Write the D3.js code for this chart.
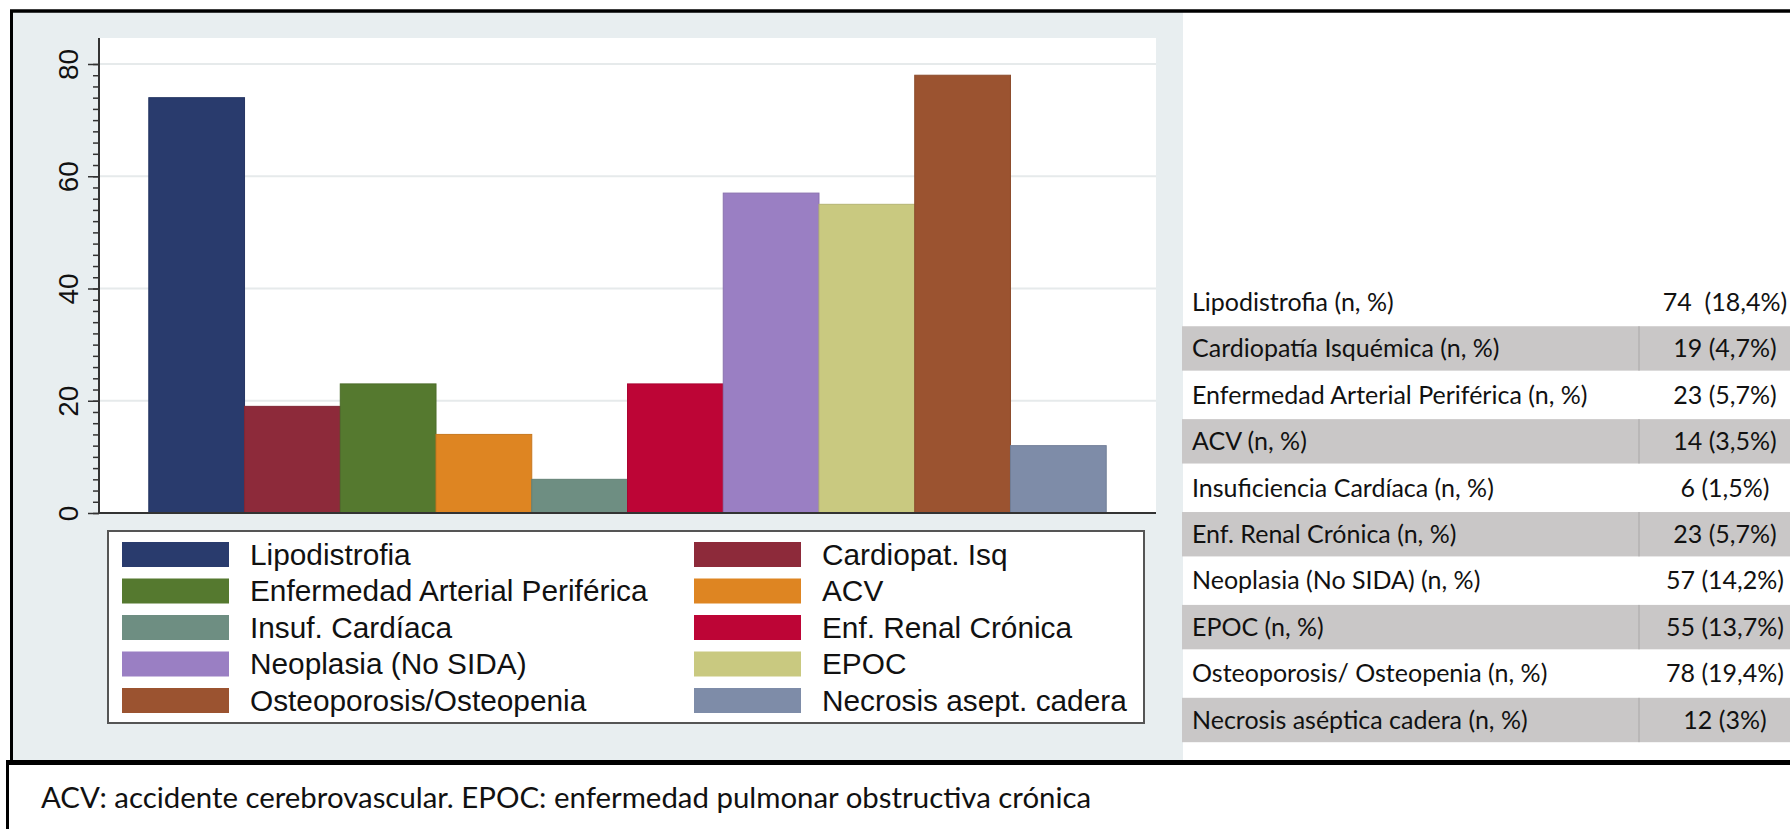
<!DOCTYPE html>
<html>
<head>
<meta charset="utf-8">
<script src="https://cdn.jsdelivr.net/npm/d3@7"></script>
<style>
  html, body { margin: 0; padding: 0; background: #fff; }
  svg { display: block; }
  .pre { white-space: pre; }
</style>
</head>
<body>
<div id="chart"></div>
<script>
// DATA
const categories = [
  "Lipodistrofia", "Cardiopat. Isq", "Enfermedad Arterial Periférica", "ACV",
  "Insuf. Cardíaca", "Enf. Renal Crónica", "Neoplasia (No SIDA)", "EPOC",
  "Osteoporosis/Osteopenia", "Necrosis asept. cadera"
];
const counts = [74, 19, 23, 14, 6, 23, 57, 55, 78, 12];
const barColors = [
  "#293b6d", "#8d2a3a", "#55792f", "#de8522", "#6e8e82",
  "#bd0536", "#9a7fc3", "#c9c980", "#9b5330", "#7e8ca8"
];
const yTicks = [0, 20, 40, 60, 80];

const tableLabels = [
  "Lipodistrofia (n, %)", "Cardiopatía Isquémica (n, %)",
  "Enfermedad Arterial Periférica (n, %)", "ACV (n, %)",
  "Insuficiencia Cardíaca (n, %)", "Enf. Renal Crónica (n, %)",
  "Neoplasia (No SIDA) (n, %)", "EPOC (n, %)",
  "Osteoporosis/ Osteopenia (n, %)", "Necrosis aséptica cadera (n, %)"
];
const tablePct = ["18,4", "4,7", "5,7", "3,5", "1,5", "5,7", "14,2", "13,7", "19,4", "3"];

const footnote = "ACV: accidente cerebrovascular. EPOC: enfermedad pulmonar obstructiva crónica";

// LAYOUT
const W = 1790, H = 829;
const plot = { left: 99, right: 1156, top: 38, bottom: 513 };

const svg = d3.select("#chart").append("svg")
  .attr("width", W).attr("height", H);

// graph region (stata light background)
svg.append("rect")
  .attr("x", 12).attr("y", 12).attr("width", 1171).attr("height", 750)
  .attr("fill", "#e8eef0");

// plot region
svg.append("rect")
  .attr("x", plot.left).attr("y", plot.top)
  .attr("width", plot.right - plot.left).attr("height", plot.bottom - plot.top)
  .attr("fill", "#fff");

const x = d3.scaleBand()
  .domain(categories)
  .range([plot.left, plot.right])
  .paddingInner(0)
  .paddingOuter(0.52);

const y = d3.scaleLinear()
  .domain([0, 80])
  .range([plot.bottom, 64]);

// gridlines
svg.append("g")
  .selectAll("line")
  .data(yTicks.filter(d => d > 0))
  .enter().append("line")
  .attr("x1", plot.left).attr("x2", plot.right)
  .attr("y1", d => y(d)).attr("y2", d => y(d))
  .attr("stroke", "#e6eaeb").attr("stroke-width", 2);

// bars
svg.append("g")
  .selectAll("rect")
  .data(counts)
  .enter().append("rect")
  .attr("x", (d, i) => x(categories[i]))
  .attr("width", x.bandwidth())
  .attr("y", d => y(d))
  .attr("height", d => y(0) - y(d))
  .attr("fill", (d, i) => barColors[i])
  .attr("stroke", (d, i) => d3.color(barColors[i]).darker(0.3))
  .attr("stroke-width", 1);

// x baseline
svg.append("line")
  .attr("x1", plot.left).attr("x2", plot.right)
  .attr("y1", y(0)).attr("y2", y(0))
  .attr("stroke", "#333").attr("stroke-width", 2);

// minor ticks
const minor = svg.append("g")
  .attr("transform", "translate(" + plot.left + ",0)")
  .call(d3.axisLeft(y).tickValues(d3.range(0, 81, 2)).tickSize(6).tickFormat(""));
minor.select(".domain").remove();
minor.selectAll("line").attr("stroke", "#333").attr("stroke-width", 1.5);

// major axis
const yAxis = svg.append("g")
  .attr("transform", "translate(" + plot.left + ",0)")
  .call(d3.axisLeft(y).tickValues(yTicks).tickSize(11).tickSizeOuter(0));
yAxis.select(".domain")
  .attr("d", "M0," + plot.top + "V" + plot.bottom)
  .attr("stroke", "#333").attr("stroke-width", 2);
yAxis.selectAll(".tick line").attr("stroke", "#333").attr("stroke-width", 1.5);
yAxis.selectAll(".tick text")
  .attr("x", null).attr("dy", null)
  .attr("transform", "translate(-21,0) rotate(-90)")
  .attr("text-anchor", "middle")
  .attr("font-family", "Liberation Sans, Arial, sans-serif")
  .attr("font-size", 28)
  .attr("fill", "#111");

// legend
const legend = svg.append("g");
legend.append("rect")
  .attr("x", 108).attr("y", 531).attr("width", 1036).attr("height", 192)
  .attr("fill", "#fff").attr("stroke", "#555").attr("stroke-width", 2);

const legCols = [122, 694];
const legItems = legend.selectAll("g.item")
  .data(categories)
  .enter().append("g")
  .attr("class", "item")
  .attr("transform", (d, i) =>
    "translate(" + legCols[i % 2] + "," + (554.5 + Math.floor(i / 2) * 36.5) + ")");
legItems.append("rect")
  .attr("x", 0).attr("y", -12.5).attr("width", 107).attr("height", 25)
  .attr("fill", (d, i) => barColors[i]);
legItems.append("text")
  .attr("x", 128).attr("y", 0).attr("dy", "0.35em")
  .attr("font-family", "Liberation Sans, Arial, sans-serif")
  .attr("font-size", 29.8)
  .attr("fill", "#111")
  .text(d => d);

// table on the right
const rowY = d3.scaleLinear().domain([0, 9]).range([302, 720]);
const rowH = 46.4;
const table = svg.append("g");
const rows = table.selectAll("g.row")
  .data(tableLabels)
  .enter().append("g")
  .attr("class", "row")
  .attr("transform", (d, i) => "translate(0," + rowY(i) + ")");
rows.filter((d, i) => i % 2 === 1)
  .append("rect")
  .attr("x", 1182).attr("y", -rowH / 2 + 1).attr("width", W - 1182).attr("height", rowH - 2)
  .attr("fill", "#c9c7c7");
rows.filter((d, i) => i % 2 === 1)
  .append("line")
  .attr("x1", 1639).attr("x2", 1639)
  .attr("y1", -rowH / 2 + 1).attr("y2", rowH / 2 - 1)
  .attr("stroke", "#a9a7a7").attr("stroke-width", 1);
rows.append("text")
  .attr("x", 1192).attr("dy", "0.35em")
  .attr("font-family", "Lato, sans-serif")
  .attr("font-size", 25)
  .attr("fill", "#111")
  .text(d => d);
rows.append("text")
  .attr("class", "pre")
  .attr("x", 1725).attr("dy", "0.35em")
  .attr("text-anchor", "middle")
  .attr("font-family", "Lato, sans-serif")
  .attr("font-size", 25)
  .attr("fill", "#111")
  .text((d, i) => counts[i] + (i === 0 ? "  (" : " (") + tablePct[i] + "%)");

// frame lines
svg.append("line")
  .attr("x1", 10).attr("x2", W).attr("y1", 11).attr("y2", 11)
  .attr("stroke", "#000").attr("stroke-width", 3.5);
svg.append("line")
  .attr("x1", 11.5).attr("x2", 11.5).attr("y1", 10).attr("y2", 762)
  .attr("stroke", "#000").attr("stroke-width", 3);
svg.append("line")
  .attr("x1", 6).attr("x2", W).attr("y1", 762.5).attr("y2", 762.5)
  .attr("stroke", "#000").attr("stroke-width", 5);
svg.append("line")
  .attr("x1", 7.5).attr("x2", 7.5).attr("y1", 762).attr("y2", H)
  .attr("stroke", "#000").attr("stroke-width", 3);

// footnote
svg.append("text")
  .attr("x", 41).attr("y", 808)
  .attr("font-family", "Lato, sans-serif")
  .attr("font-size", 29.4)
  .attr("fill", "#111")
  .text(footnote);
</script>
</body>
</html>
